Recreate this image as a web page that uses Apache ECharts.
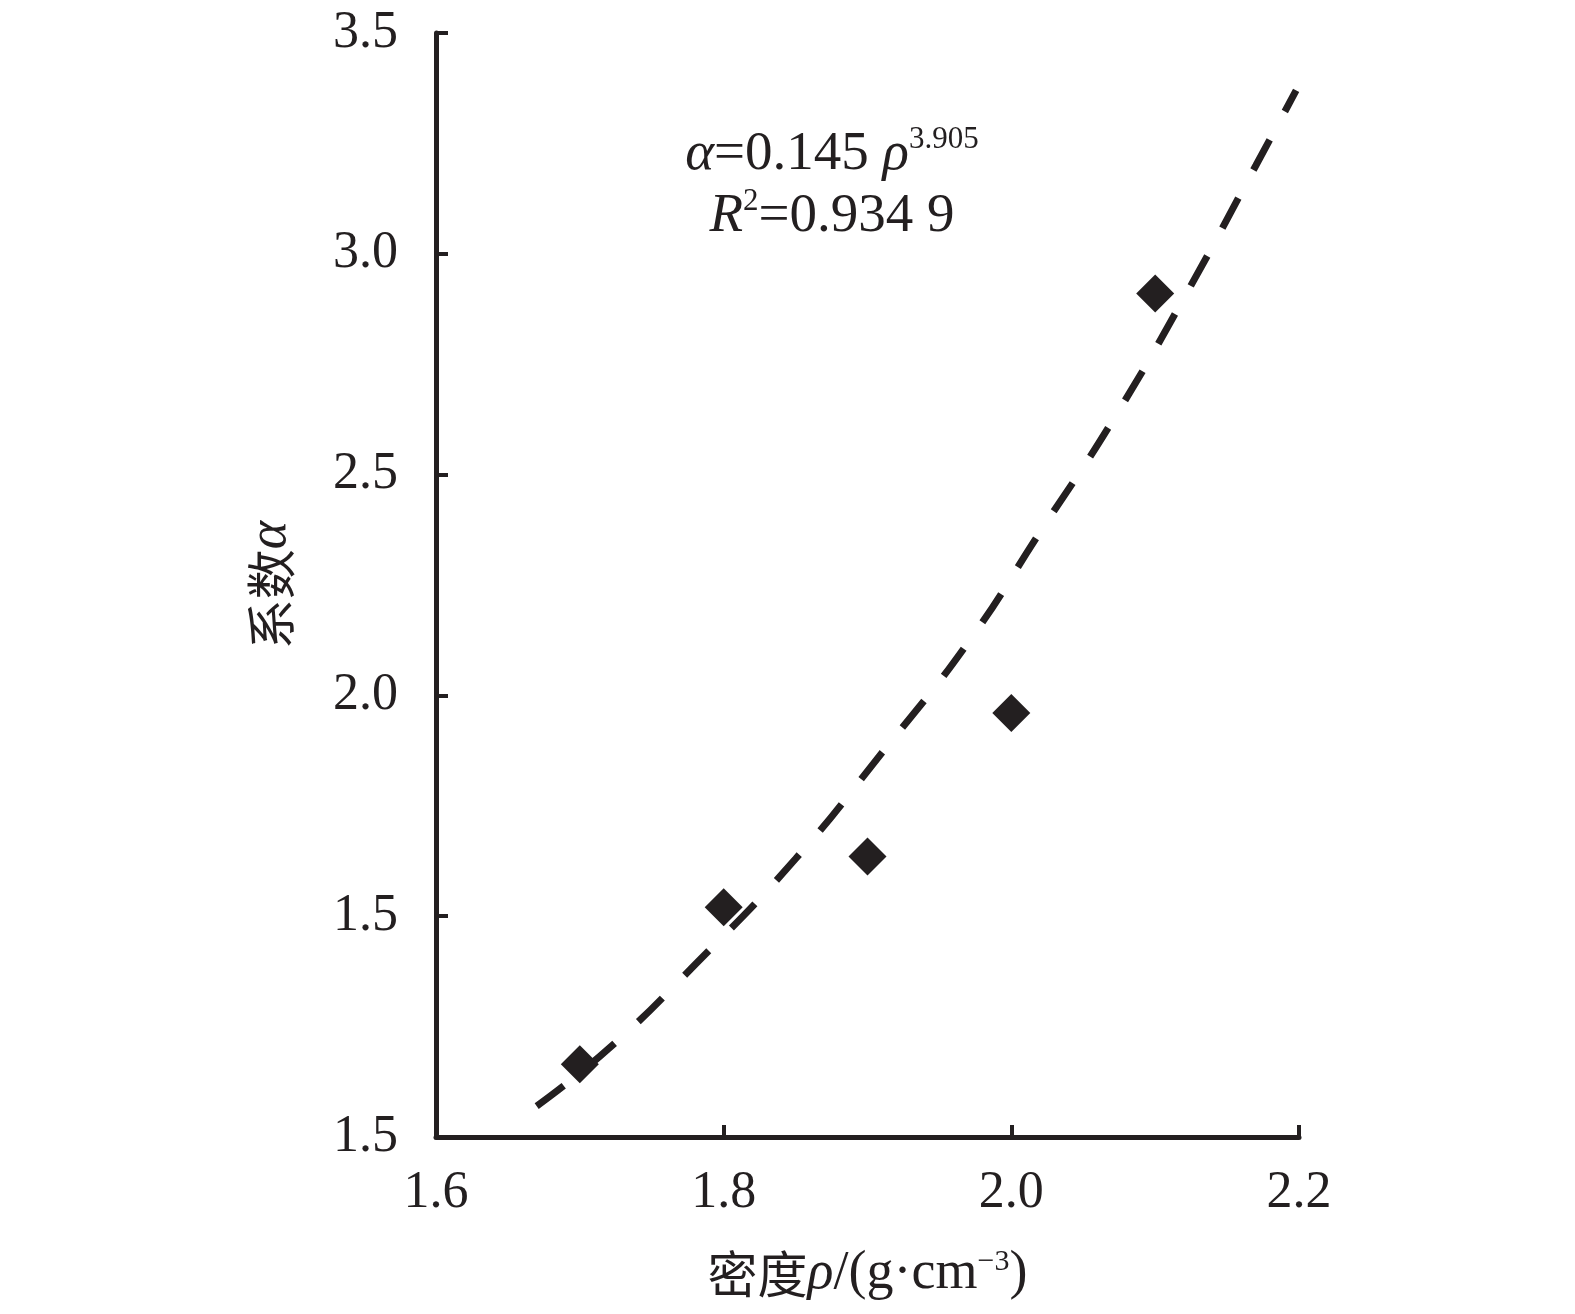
<!DOCTYPE html>
<html>
<head>
<meta charset="utf-8">
<script src="https://cdn.jsdelivr.net/npm/echarts@6/dist/echarts.min.js"></script>
<style>
  html, body { margin: 0; padding: 0; background: #fff; }
  #chart { width: 1575px; height: 1314px; }
</style>
</head>
<body>
<div id="chart"></div>
<script>
// Measured points (density, coefficient)
const density = [1.7, 1.8, 1.9, 2.0, 2.1];
const alphaValues = [1.165, 1.52, 1.635, 1.96, 2.91];

const fitDensity = [1.67, 1.72, 1.78, 1.85, 1.91, 1.97, 2.02, 2.07, 2.12, 2.17, 2.198];
const fitAlpha = [1.07, 1.20, 1.39, 1.63, 1.87, 2.12, 2.37, 2.62, 2.90, 3.20, 3.37];

// Tick labels as printed (bottom one reads 1.5 in the original)
const xTickLabels = ['1.6', '1.8', '2.0', '2.2'];
const yTickLabels = ['1.5', '1.5', '2.0', '2.5', '3.0', '3.5'];

const INK = '#231f20';
const SERIF = '"Liberation Serif", "Times New Roman", serif';
const CJK = '"Noto Sans CJK SC", "Noto Sans CJK JP", sans-serif';

const chart = echarts.init(document.getElementById('chart'));

chart.setOption({
    animation: false,
    backgroundColor: '#fff',
    textStyle: { fontFamily: SERIF, color: INK },
    grid: { left: 436, right: 276, top: 33, bottom: 177 },
    xAxis: {
        type: 'value',
        min: 1.6,
        max: 2.2,
        interval: 0.2,
        splitLine: { show: false },
        axisLine: { lineStyle: { color: INK, width: 5 } },
        axisTick: { inside: true, length: 12, lineStyle: { color: INK, width: 4 } },
        axisLabel: {
            margin: 30,
            fontSize: 52,
            fontFamily: SERIF,
            color: INK,
            formatter: (v) => xTickLabels[Math.round((v - 1.6) / 0.2)]
        },
        name: '{c|密度}{i|ρ}{n|/(g·cm}{s|−3}{n|)}',
        nameLocation: 'middle',
        nameGap: 110,
        nameTextStyle: {
            rich: {
                c: { fontFamily: CJK, fontSize: 50, color: INK },
                i: { fontFamily: SERIF, fontStyle: 'italic', fontSize: 54, color: INK },
                n: { fontFamily: SERIF, fontSize: 54, color: INK },
                s: { fontFamily: SERIF, fontSize: 30, color: INK, verticalAlign: 'top', padding: [0, 0, 22, 0] }
            }
        }
    },
    yAxis: {
        type: 'value',
        min: 1,
        max: 3.5,
        interval: 0.5,
        splitLine: { show: false },
        axisLine: { lineStyle: { color: INK, width: 5 } },
        axisTick: { inside: true, length: 12, lineStyle: { color: INK, width: 4 } },
        axisLabel: {
            margin: 38,
            fontSize: 52,
            fontFamily: SERIF,
            color: INK,
            formatter: (v) => yTickLabels[Math.round((v - 1) / 0.5)]
        },
        name: '{c|系数}{i|α}',
        nameLocation: 'middle',
        nameRotate: 90,
        nameGap: 138,
        nameTextStyle: {
            rich: {
                c: { fontFamily: CJK, fontSize: 50, color: INK },
                i: { fontFamily: SERIF, fontStyle: 'italic', fontSize: 54, color: INK }
            }
        }
    },
    graphic: [{
        type: 'text',
        x: 832,
        y: 124,
        style: {
            text: '{i|α}{n|=0.145 }{i|ρ}{s|3.905}\n{i|R}{s|2}{n|=0.934 9}',
            align: 'center',
            verticalAlign: 'top',
            fill: INK,
            lineHeight: 62,
            rich: {
                i: { fontFamily: SERIF, fontStyle: 'italic', fontSize: 55, fill: INK, lineHeight: 62 },
                n: { fontFamily: SERIF, fontSize: 55, fill: INK, lineHeight: 62 },
                s: { fontFamily: SERIF, fontSize: 31, fill: INK, verticalAlign: 'top', lineHeight: 62, padding: [0, 0, 26, 0] }
            }
        }
    }],
    series: [
        {
            type: 'line',
            data: fitDensity.map((x, i) => [x, fitAlpha[i]]),
            smooth: true,
            symbol: 'none',
            lineStyle: { color: INK, width: 7, type: [34, 32], cap: 'butt' },
            z: 2
        },
        {
            type: 'scatter',
            data: density.map((x, i) => [x, alphaValues[i]]),
            symbol: 'diamond',
            symbolSize: [38, 38],
            itemStyle: { color: INK, opacity: 1 },
            z: 3
        }
    ]
});
</script>
</body>
</html>
